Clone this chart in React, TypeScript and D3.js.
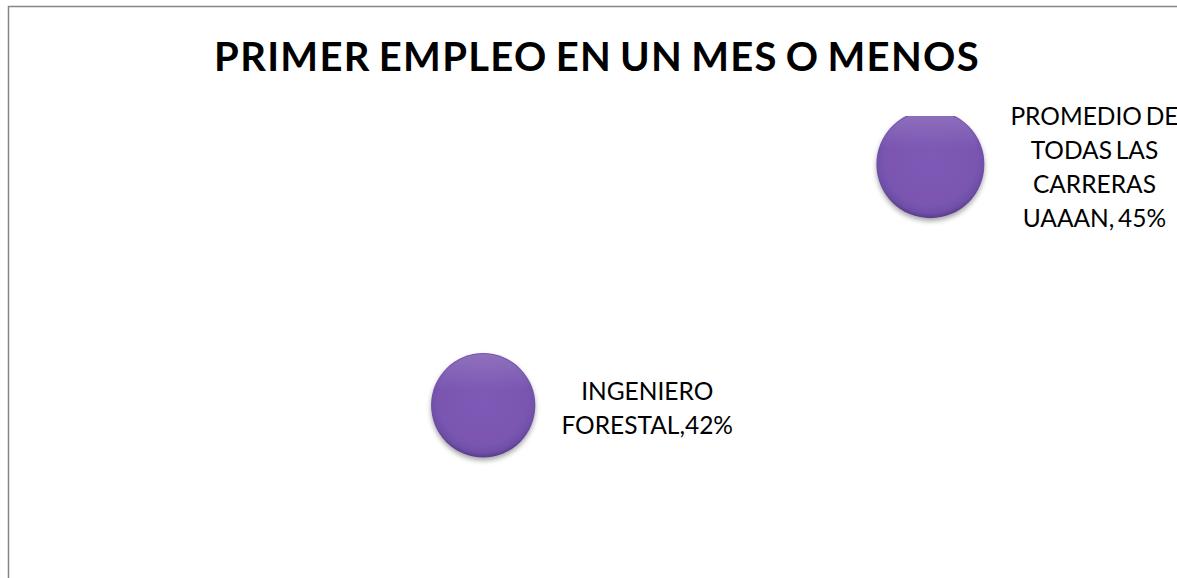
import React, { useEffect, useRef } from "react";
import * as d3 from "d3";

const title = "PRIMER EMPLEO EN UN MES O MENOS";
const categories = ["INGENIERO FORESTAL", "PROMEDIO DE TODAS LAS CARRERAS UAAAN"];
const xValues = [1, 2];
const yValues = [42, 45];
const bubbleSizes = [42, 45];
const labelLines = [
  ["INGENIERO", "FORESTAL,42%"],
  ["PROMEDIO DE", "TODAS LAS", "CARRERAS", "UAAAN, 45%"],
];

const W = 1177;
const H = 578;
const plot = { left: 36, right: 1154, top: 116, bottom: 566 };
const FONT = "Lato, 'Open Sans', sans-serif";

export default function App() {
  const ref = useRef<SVGSVGElement | null>(null);

  useEffect(() => {
    const svg = d3.select(ref.current);
    svg.selectAll("*").remove();

    const defs = svg.append("defs");
    const grad = defs
      .append("radialGradient")
      .attr("id", "bub")
      .attr("cx", "50%")
      .attr("cy", "45%")
      .attr("r", "55%");
    grad.append("stop").attr("offset", "0%").attr("stop-color", "#7e5ab6");
    grad.append("stop").attr("offset", "78%").attr("stop-color", "#7a56b1");
    grad.append("stop").attr("offset", "92%").attr("stop-color", "#6f4fa7");
    grad.append("stop").attr("offset", "100%").attr("stop-color", "#573b88");

    const hl = defs
      .append("linearGradient")
      .attr("id", "hl")
      .attr("x1", "0")
      .attr("y1", "0")
      .attr("x2", "0")
      .attr("y2", "1");
    hl.append("stop").attr("offset", "0%").attr("stop-color", "#ffffff").attr("stop-opacity", 0.16);
    hl.append("stop").attr("offset", "35%").attr("stop-color", "#ffffff").attr("stop-opacity", 0.0);

    const f = defs
      .append("filter")
      .attr("id", "sh")
      .attr("x", "-30%")
      .attr("y", "-30%")
      .attr("width", "160%")
      .attr("height", "170%");
    f.append("feDropShadow")
      .attr("dx", 0)
      .attr("dy", 3)
      .attr("stdDeviation", 2.5)
      .attr("flood-color", "#000")
      .attr("flood-opacity", 0.35);

    defs
      .append("clipPath")
      .attr("id", "plotclip")
      .append("rect")
      .attr("x", plot.left)
      .attr("y", plot.top)
      .attr("width", plot.right - plot.left)
      .attr("height", H - plot.top + 20);

    svg.append("rect").attr("width", W).attr("height", H).attr("fill", "#ffffff");

    // chart border (only top & left visible in frame)
    svg
      .append("rect")
      .attr("x", 8.5)
      .attr("y", 6.5)
      .attr("width", 1400)
      .attr("height", 900)
      .attr("fill", "none")
      .attr("stroke", "#868686")
      .attr("stroke-width", 1.5);

    const x = d3.scaleLinear().domain([0, 2.5]).range([plot.left, plot.right]);
    const y = d3.scaleLinear().domain([40, 45.6]).range([plot.bottom, plot.top]);
    const r = d3.scaleSqrt().domain([0, 45]).range([0, 54]);

    const data = categories.map((c, i) => ({
      c,
      x: xValues[i],
      y: yValues[i],
      s: bubbleSizes[i],
      lines: labelLines[i],
    }));

    const g = svg.append("g").attr("clip-path", "url(#plotclip)");
    const bub = g.selectAll("g.b").data(data).enter().append("g").attr("class", "b");
    bub
      .append("circle")
      .attr("cx", (d) => x(d.x))
      .attr("cy", (d) => y(d.y))
      .attr("r", (d) => r(d.s))
      .attr("fill", "url(#bub)")
      .attr("filter", "url(#sh)");
    bub
      .append("circle")
      .attr("cx", (d) => x(d.x))
      .attr("cy", (d) => y(d.y))
      .attr("r", (d) => r(d.s) - 1)
      .attr("fill", "url(#hl)");

    // labels
    const lineH = 34;
    data.forEach((d) => {
      const cx = x(d.x);
      const cy = y(d.y);
      const rr = r(d.s);
      const t = svg
        .append("text")
        .attr("font-family", FONT)
        .attr("font-size", 24.5)
        .attr("word-spacing", -2.5)
        .attr("fill", "#000")
        .attr("text-anchor", "middle");
      const n = d.lines.length;
      d.lines.forEach((ln, i) => {
        t.append("tspan")
          .attr("x", 0)
          .attr("y", cy + (i - (n - 1) / 2) * lineH + 12)
          .text(ln);
      });
      const bb = (t.node() as SVGTextElement).getBBox();
      t.attr("transform", `translate(${cx + rr + 26 + bb.width / 2},0)`);
    });

    svg
      .append("text")
      .attr("x", 597)
      .attr("y", 71)
      .attr("text-anchor", "middle")
      .attr("font-family", FONT)
      .attr("font-weight", "bold")
      .attr("font-size", 40)
      .attr("letter-spacing", 1.3)
      .attr("word-spacing", -3)
      .attr("fill", "#000")
      .text(title);
  }, []);

  return (
    <svg
      ref={ref}
      width={W}
      height={H}
      style={{ position: "absolute", left: 0, top: 0, display: "block" }}
    />
  );
}
